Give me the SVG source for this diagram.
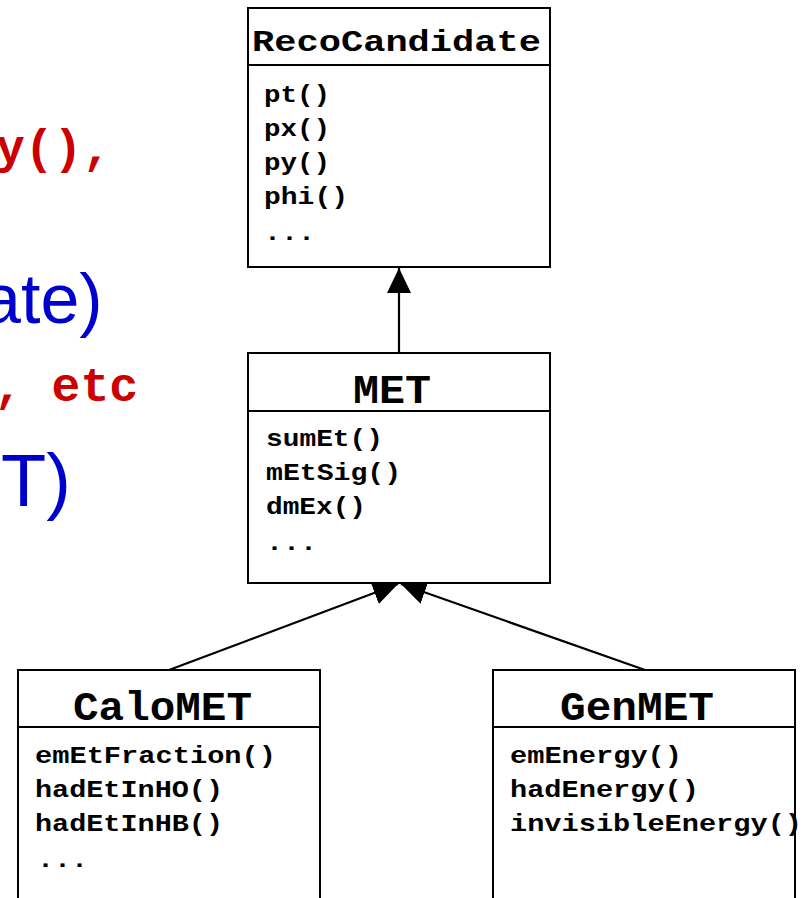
<svg xmlns="http://www.w3.org/2000/svg" width="810" height="898" viewBox="0 0 810 898">
<style>
.box{fill:#fff;stroke:#000;stroke-width:2}
.div{stroke:#000;stroke-width:2}
.title{font-family:"Liberation Mono","Courier New",monospace;font-weight:bold;fill:#000}
.mem{font-family:"Liberation Mono","Courier New",monospace;font-weight:bold;font-size:24px;fill:#000}
.red{font-family:"Liberation Mono","Courier New",monospace;font-weight:bold;font-size:48px;fill:#cc0000}
.blue{font-family:"Liberation Sans",Arial,sans-serif;font-size:70px;fill:#0000cc}
.conn{stroke:#000;stroke-width:2.2;fill:none;marker-end:url(#tri)}
</style>
<defs>
<marker id="tri" markerUnits="userSpaceOnUse" markerWidth="28" markerHeight="26" refX="25" refY="12" orient="auto">
<path d="M0,0 L25,12 L0,24 Z" fill="#000"/>
</marker>
</defs>
<rect width="810" height="898" fill="#fff"/>
<g id="background-text">
<text class="red" x="-4" y="163">y(),</text>
<text class="blue" x="-18" y="323">ate)</text>
<text class="red" x="-6" y="401">, etc</text>
<text class="blue" x="1" y="506" style="font-size:74px">T)</text>
</g>
<g id="connectors">
<line class="conn" x1="399" y1="353" x2="399" y2="268"/>
<line class="conn" x1="169" y1="670" x2="398" y2="584"/>
<line class="conn" x1="645" y1="670" x2="401" y2="584"/>
</g>
<g id="RecoCandidate">
<rect class="box" x="248" y="8" width="302" height="259"/>
<line class="div" x1="248" y1="65" x2="550" y2="65"/>
<text class="title" x="252" y="51" font-size="30" textLength="289" lengthAdjust="spacingAndGlyphs">RecoCandidate</text>
<text class="mem" x="264" y="102" textLength="66" lengthAdjust="spacingAndGlyphs">pt()</text>
<text class="mem" x="264" y="136" textLength="66" lengthAdjust="spacingAndGlyphs">px()</text>
<text class="mem" x="264" y="170" textLength="66" lengthAdjust="spacingAndGlyphs">py()</text>
<text class="mem" x="264" y="204" textLength="84" lengthAdjust="spacingAndGlyphs">phi()</text>
<text class="mem" x="264" y="240" textLength="51" lengthAdjust="spacingAndGlyphs">...</text>
</g>
<g id="MET">
<rect class="box" x="248" y="353" width="302" height="230"/>
<line class="div" x1="248" y1="411" x2="550" y2="411"/>
<text class="title" x="353" y="403" font-size="40" textLength="78" lengthAdjust="spacingAndGlyphs">MET</text>
<text class="mem" x="266" y="446" textLength="117" lengthAdjust="spacingAndGlyphs">sumEt()</text>
<text class="mem" x="266" y="480" textLength="135" lengthAdjust="spacingAndGlyphs">mEtSig()</text>
<text class="mem" x="266" y="514" textLength="100" lengthAdjust="spacingAndGlyphs">dmEx()</text>
<text class="mem" x="266" y="550" textLength="51" lengthAdjust="spacingAndGlyphs">...</text>
</g>
<g id="CaloMET">
<rect class="box" x="18" y="670" width="302" height="240"/>
<line class="div" x1="18" y1="727" x2="320" y2="727"/>
<text class="title" x="73" y="720" font-size="40" textLength="179" lengthAdjust="spacingAndGlyphs">CaloMET</text>
<text class="mem" x="35" y="763" textLength="241" lengthAdjust="spacingAndGlyphs">emEtFraction()</text>
<text class="mem" x="35" y="797" textLength="188" lengthAdjust="spacingAndGlyphs">hadEtInHO()</text>
<text class="mem" x="35" y="831" textLength="188" lengthAdjust="spacingAndGlyphs">hadEtInHB()</text>
<text class="mem" x="37" y="867" textLength="51" lengthAdjust="spacingAndGlyphs">...</text>
</g>
<g id="GenMET">
<rect class="box" x="493" y="670" width="302" height="240"/>
<line class="div" x1="493" y1="727" x2="795" y2="727"/>
<text class="title" x="560" y="720" font-size="40" textLength="154" lengthAdjust="spacingAndGlyphs">GenMET</text>
<text class="mem" x="510" y="763" textLength="172" lengthAdjust="spacingAndGlyphs">emEnergy()</text>
<text class="mem" x="510" y="797" textLength="189" lengthAdjust="spacingAndGlyphs">hadEnergy()</text>
<text class="mem" x="510" y="831" textLength="292" lengthAdjust="spacingAndGlyphs">invisibleEnergy()</text>
</g>
</svg>
